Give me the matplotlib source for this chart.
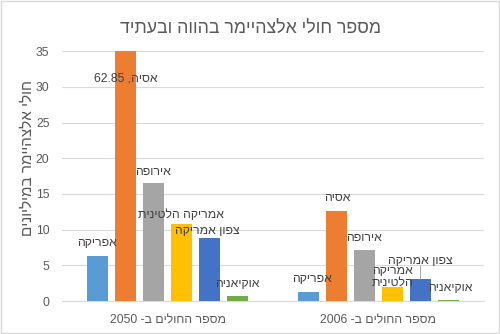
import re
import matplotlib
matplotlib.use("Agg")
import matplotlib.pyplot as plt
from matplotlib.patches import Rectangle

plt.rcParams['font.family'] = ['Liberation Sans', 'DejaVu Sans']

# ---------------- data ----------------
categories = ["מספר החולים ב- 2050", "מספר החולים ב- 2006"]
series_names = ["אפריקה", "אסיה", "אירופה", "אמריקה הלטינית", "צפון אמריקה", "אוקיאניה"]
africa = [6.33, 1.33]
asia = [62.85, 12.65]
europe = [16.51, 7.21]
latin_america = [10.85, 2.03]
north_america = [8.85, 3.08]
oceania = [0.75, 0.21]
title = "מספר חולי אלצהיימר בהווה ובעתיד"
ylabel = "חולי אלצהיימר במיליונים"
yticks = [0, 5, 10, 15, 20, 25, 30, 35]

series_values = [africa, asia, europe, latin_america, north_america, oceania]
colors = ["#5B9BD5", "#ED7D31", "#A5A5A5", "#FFC000", "#4472C4", "#70AD47"]


def rtl(s):
    """Visual (left-to-right) order for a right-to-left string."""
    r = s[::-1]
    return re.sub(r"[0-9][0-9.]*", lambda m: m.group(0)[::-1], r)


fig = plt.figure(figsize=(5.0, 3.34), dpi=100)
ax = fig.add_axes([0.124, 0.0988, 0.844, 0.7482])

step = 0.1327
width = 0.0995
ymax = 35

# label offsets in pixels (dx, dy) per [category][series]
offsets = [
    [(0, 13), None, (0, 11), (0, 9), (-2, 7), (0, 12)],
    [(4, 13), (1, 13), (0, 12), (0, 10), (0, 18), (2, 12)],
]

for i, (name, vals, col) in enumerate(zip(series_names, series_values, colors)):
    xs = [c + (i - 2.5) * step for c in range(len(categories))]
    ax.bar(xs, vals, width=width, color=col, zorder=3)
    for ci, (x, v) in enumerate(zip(xs, vals)):
        if v > ymax:
            ax.text(x, 31.2, rtl(f"{name}, {v:.2f}"), ha='center', va='center',
                    fontsize=8.8, color='#404040', zorder=5)
            continue
        dx, dy = offsets[ci][i]
        if ci == 1 and i == 3:
            label = "\n".join(rtl(p) for p in name.split(" "))
        else:
            label = rtl(name)
        ax.annotate(label, xy=(x, v), xytext=(dx, dy), textcoords='offset pixels',
                    ha='center', va='center', fontsize=8.8, color='#404040',
                    linespacing=1.0, zorder=5)
        if ci == 1 and i == 4:
            ax.annotate("", xy=(x, v), xytext=(0, 13), textcoords='offset pixels',
                        arrowprops=dict(arrowstyle='-', color='#A6A6A6', lw=0.7,
                                        shrinkA=0, shrinkB=0))

ax.set_ylim(0, ymax)
ax.set_xlim(-0.5, len(categories) - 0.5)
ax.set_yticks(yticks)
ax.set_xticks(range(len(categories)))
ax.set_xticklabels([rtl(c) for c in categories])
ax.tick_params(axis='both', length=0, labelsize=8.8, colors='#595959')
ax.tick_params(axis='x', pad=9)
ax.tick_params(axis='y', pad=9)
ax.grid(axis='y', color='#D9D9D9', lw=0.8, zorder=0)
for sp in ['top', 'right', 'left']:
    ax.spines[sp].set_visible(False)
ax.spines['bottom'].set_color('#D9D9D9')
ax.spines['bottom'].set_linewidth(0.8)

ax.set_ylabel(rtl(ylabel), fontsize=11, color='#595959')
ax.yaxis.set_label_coords(-0.064, 0.574)
fig.text(0.5, 0.915, rtl(title), ha='center', va='center', fontsize=12.8, color='#595959')

fig.patches.append(Rectangle((0.002, 0.003), 0.996, 0.994, transform=fig.transFigure,
                             fill=False, edgecolor='#D9D9D9', lw=1))

fig.savefig("out.png", dpi=100)
